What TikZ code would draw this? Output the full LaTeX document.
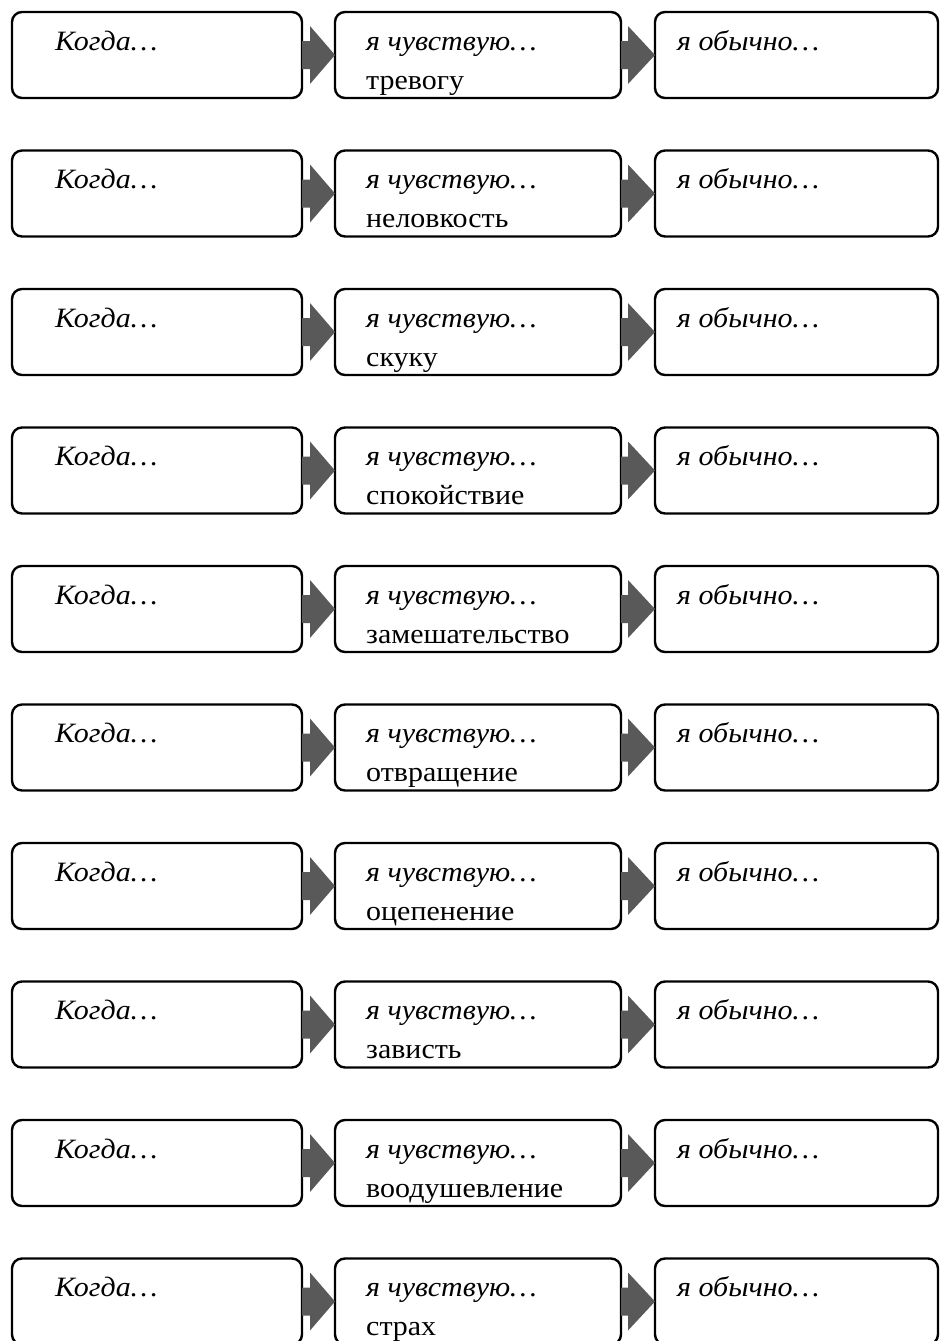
\documentclass[tikz,border=0pt]{standalone}
\usepackage{fontspec}
\setmainfont{Liberation Serif}[FakeStretch=1.07]
\usetikzlibrary{calc}
\definecolor{arrowgray}{HTML}{595959}
\tikzset{
  flowbox/.style={draw=black, line width=2.4pt, rounded corners=10pt, outer sep=0pt, inner sep=0pt, anchor=north west},
  lbl/.style={anchor=base west, inner sep=0pt, font=\fontsize{28}{32}\selectfont},
  arrowfill/.style={fill=arrowgray, draw=none}
}
\begin{document}
\begin{tikzpicture}[x=1pt,y=-1pt]
\useasboundingbox (0,0) rectangle (940,1341);
\foreach \i/\feel in {0/тревогу,1/неловкость,2/скуку,3/спокойствие,4/замешательство,5/отвращение,6/оцепенение,7/зависть,8/воодушевление,9/страх}{
  \pgfmathsetmacro{\T}{12+138.5*\i}
  \node[flowbox, minimum width=290pt, minimum height=86pt] (a\i) at (12,\T) {};
  \node[flowbox, minimum width=286pt, minimum height=86pt] (b\i) at (335,\T) {};
  \node[flowbox, minimum width=283pt, minimum height=86pt] (c\i) at (655,\T) {};
  \fill[arrowfill] ($(a\i.east)+(0pt,14pt)$) -- ++(8pt,0pt) -- ++(0pt,15pt) -- (b\i.west) -- ($(a\i.east)+(8pt,-29pt)$) -- ++(0pt,15pt) -- ($(a\i.east)+(0pt,-14pt)$) -- cycle;
  \fill[arrowfill] ($(b\i.east)+(0pt,14pt)$) -- ++(7pt,0pt) -- ++(0pt,15pt) -- (c\i.west) -- ($(b\i.east)+(7pt,-29pt)$) -- ++(0pt,15pt) -- ($(b\i.east)+(0pt,-14pt)$) -- cycle;
  \node[lbl] (ka\i) at (55,\T+38) {\itshape Когда…};
  \node[lbl] (kb\i) at (366,\T+38) {\itshape я чувствую…};
  \node[lbl] (fb\i) at (366,\T+77) {\feel};
  \node[lbl] (kc\i) at (677,\T+38) {\itshape я обычно…};
}
\end{tikzpicture}
\end{document}
